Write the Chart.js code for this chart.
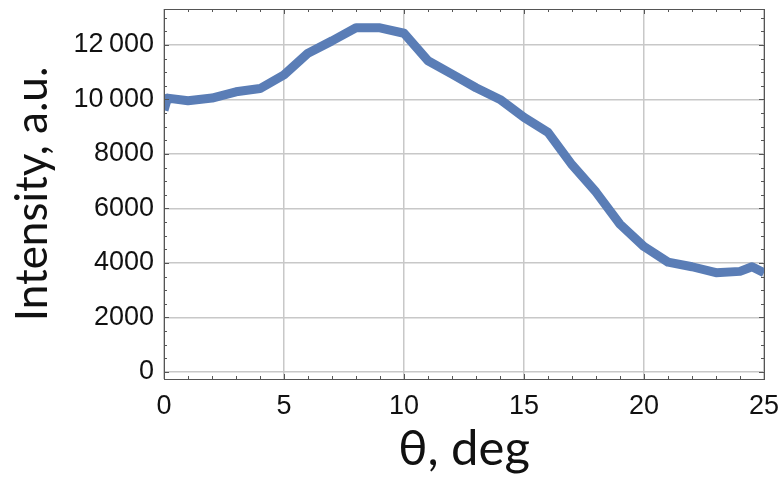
<!DOCTYPE html>
<html>
<head>
<meta charset="utf-8">
<script src="https://cdn.jsdelivr.net/npm/chart.js@4.4.1/dist/chart.umd.min.js"></script>
<style>
  html, body { margin: 0; padding: 0; background: #fff; }
  #wrap { width: 782px; height: 481px; }
</style>
</head>
<body>
<div id="wrap"><canvas id="plot"></canvas></div>
<script>
// =======================
// DATA
// =======================
const thetaValues = [0, 0.15, 1, 2, 3, 4, 5, 6, 7, 8, 9, 10, 11, 12, 13, 14, 15, 16, 17, 18, 19, 20, 21, 22, 23, 24, 24.5, 25];
const intensityValues = [9600, 10050, 9950, 10050, 10280, 10400, 10900, 11700, 12150, 12630, 12630, 12430, 11420, 10930, 10430, 10000, 9340, 8790, 7600, 6600, 5420, 4600, 4030, 3860, 3640, 3690, 3860, 3640];

const xTickValues = [0, 5, 10, 15, 20, 25];
const yTickValues = [0, 2000, 4000, 6000, 8000, 10000, 12000];
const xMinorStep = 1;
const yMinorStep = 500;

const xTitle = "θ, deg";
const yTitle = "Intensity, a.u.";

// =======================
// HELPERS
// =======================
function formatTick(v){
  if (v >= 10000) {
    const s = String(v);
    return s.slice(0, s.length - 3) + "\u2009" + s.slice(-3);
  }
  return String(v);
}

// frame box + small inward ticks on all four sides
const framePlugin = {
  id: "frame",
  afterDatasetsDraw(chart){
    const {ctx, chartArea: a, scales} = chart;
    const xs = scales.x, ys = scales.y;
    ctx.save();
    ctx.strokeStyle = "#555";
    ctx.lineWidth = 1;
    ctx.beginPath();

    for (let v = xs.min; v <= xs.max + 1e-9; v += xMinorStep) {
      const px = Math.round(xs.getPixelForValue(v)) + 0.5;
      const len = xTickValues.includes(v) ? 5 : 3;
      ctx.moveTo(px, a.bottom); ctx.lineTo(px, a.bottom - len);
      ctx.moveTo(px, a.top); ctx.lineTo(px, a.top + len);
    }
    for (let v = 0; v <= ys.max; v += yMinorStep) {
      const py = Math.round(ys.getPixelForValue(v)) + 0.5;
      const len = yTickValues.includes(v) ? 5 : 3;
      ctx.moveTo(a.left, py); ctx.lineTo(a.left + len, py);
      ctx.moveTo(a.right, py); ctx.lineTo(a.right - len, py);
    }
    ctx.stroke();

    ctx.strokeRect(Math.round(a.left) + 0.5, Math.round(a.top) + 0.5,
                   Math.round(a.right - a.left), Math.round(a.bottom - a.top));
    ctx.restore();
  }
};

// =======================
// CHART
// =======================
const plotCanvas = document.getElementById("plot");

new Chart(plotCanvas, {
  type: "line",
  data: {
    datasets: [{
      data: thetaValues.map((t, i) => ({x: t, y: intensityValues[i]})),
      borderColor: "#5a7db6",
      borderWidth: 9,
      borderJoinStyle: "round",
      pointRadius: 0,
      fill: false,
      tension: 0,
      clip: 0
    }]
  },
  options: {
    responsive: true,
    maintainAspectRatio: false,
    animation: false,
    layout: { padding: { top: 9, right: 18, left: 0, bottom: 0 } },
    plugins: { legend: { display: false }, tooltip: { enabled: false } },
    scales: {
      x: {
        type: "linear",
        min: 0,
        max: 25,
        afterBuildTicks: s => { s.ticks = xTickValues.map(v => ({value: v})); },
        afterFit: s => { s.height = 102; s.paddingLeft = 0; s.paddingRight = 0; },
        grid: { color: "#c8c8c8", lineWidth: 1.5, drawTicks: false },
        border: { display: false },
        ticks: {
          padding: 11,
          color: "#111",
          font: { family: "Liberation Sans", size: 27 },
          maxRotation: 0
        },
        title: {
          display: true,
          text: xTitle,
          color: "#111",
          font: { family: "Lato", size: 49 },
          padding: { top: 0, bottom: 2 }
        }
      },
      y: {
        min: -260,
        max: 13320,
        afterBuildTicks: s => { s.ticks = yTickValues.map(v => ({value: v})); },
        afterFit: s => { s.width = 164; s.paddingTop = 0; s.paddingBottom = 0; },
        grid: { color: "#c8c8c8", lineWidth: 1.5, drawTicks: false },
        border: { display: false },
        ticks: {
          padding: 10,
          color: "#111",
          font: { family: "Liberation Sans", size: 27 },
          callback: v => formatTick(v)
        },
        title: {
          display: true,
          text: yTitle,
          color: "#111",
          font: { family: "Lato", size: 44 },
          padding: { top: 6, bottom: 0 }
        }
      }
    }
  },
  plugins: [framePlugin]
});
</script>
</body>
</html>
